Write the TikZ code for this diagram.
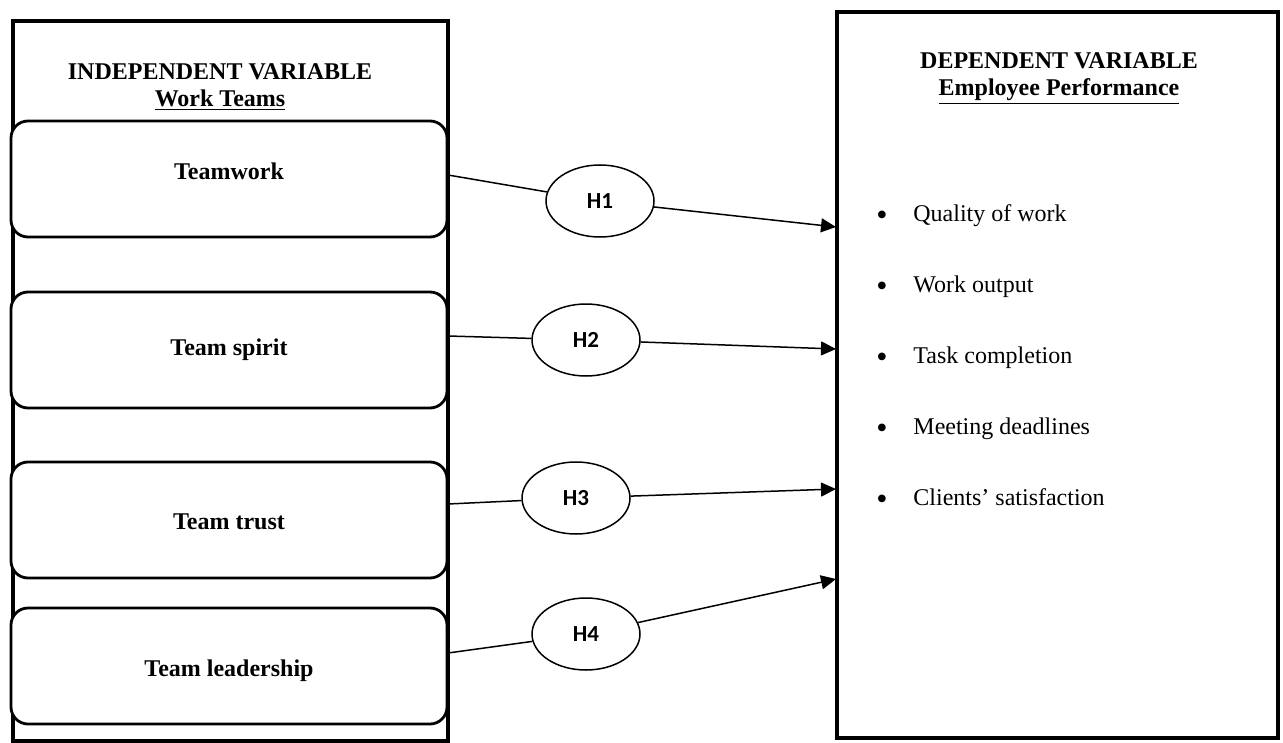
\documentclass[tikz,border=0pt]{standalone}
\usepackage{fontspec}
\setmainfont{Liberation Serif}
\newfontfamily\hypfont{Carlito}
\usetikzlibrary{shapes.geometric,arrows.meta}

\tikzset{
	teambox/.style={draw, line width=1.4pt, rounded corners=8.5pt, fill=white, minimum width=218pt, minimum height=58pt, inner sep=0pt},
	teamtext/.style={inner sep=0pt, anchor=base, font=\bfseries\fontsize{12}{14}\selectfont},
	hyp/.style={draw, ellipse, line width=0.75pt, fill=white, minimum width=54pt, minimum height=36pt, inner sep=0pt, font=\hypfont\bfseries\fontsize{11.5}{13}\selectfont},
	link/.style={line width=0.75pt},
	linkarrow/.style={line width=0.75pt, -{Triangle[length=7.5pt, width=7pt]}},
	title/.style={align=center, inner sep=0pt, font=\bfseries\fontsize{12}{13.5}\selectfont},
	item/.style={inner sep=0pt, anchor=base west, font=\fontsize{12}{14}\selectfont},
	dot/.style={inner sep=0pt, font=\fontsize{16}{18}\selectfont}
}

\begin{document}
\begin{tikzpicture}[x=0.5pt, y=-0.5pt]
			%%%%% START %%%%%
			
			\useasboundingbox (0, 0) rectangle (1283, 743);
			
			\draw[line width=2pt] (13, 21) rectangle (448, 741);
			\draw[line width=2pt] (837, 12) rectangle (1278, 738);
			
			\node[title] (ivtitle) at (220, 87) {INDEPENDENT VARIABLE\\\underline{Work Teams}};
			\node[title] (dvtitle) at (1059, 79) {DEPENDENT VARIABLE\\\underline{Employee Performance}};
			
			\node[teambox] (tw) at (229, 179) {};
			\node[teambox] (ts) at (229, 350) {};
			\node[teambox] (tt) at (229, 520) {};
			\node[teambox] (tl) at (229, 666) {};
			
			\node[teamtext] (twl) at (229, 180) {Teamwork};
			\node[teamtext] (tsl) at (229, 355) {Team spirit};
			\node[teamtext] (ttl) at (229, 529) {Team trust};
			\node[teamtext] (tll) at (229, 676) {Team leadership};
			
			\node[hyp] (h1) at (600, 201) {H1};
			\node[hyp] (h2) at (586, 340) {H2};
			\node[hyp] (h3) at (576, 498) {H3};
			\node[hyp] (h4) at (586, 634) {H4};
			
			\coordinate (s1) at (448, 175);
			\coordinate (s2) at (448, 336);
			\coordinate (s3) at (448, 504);
			\coordinate (s4) at (448, 653);
			
			\coordinate (t1) at (836, 227);
			\coordinate (t2) at (836, 349);
			\coordinate (t3) at (836, 489);
			\coordinate (t4) at (836, 579);
			
			\draw[link] (s1) -- (h1);
			\draw[linkarrow] (h1) -- (t1);
			\draw[link] (s2) -- (h2);
			\draw[linkarrow] (h2) -- (t2);
			\draw[link] (s3) -- (h3);
			\draw[linkarrow] (h3) -- (t3);
			\draw[link] (s4) -- (h4);
			\draw[linkarrow] (h4) -- (t4);
			
			\node[dot] (b1) at (882, 218) {\textbullet};
			\node[item] (q1) at (913, 221) {Quality of work};
			\node[dot] (b2) at (882, 289) {\textbullet};
			\node[item] (q2) at (913, 292) {Work output};
			\node[dot] (b3) at (882, 360) {\textbullet};
			\node[item] (q3) at (913, 363) {Task completion};
			\node[dot] (b4) at (882, 431) {\textbullet};
			\node[item] (q4) at (913, 434) {Meeting deadlines};
			\node[dot] (b5) at (882, 502) {\textbullet};
			\node[item] (q5) at (913, 505) {Clients’ satisfaction};
			
			%%%%% END %%%%%
\end{tikzpicture}
\end{document}
